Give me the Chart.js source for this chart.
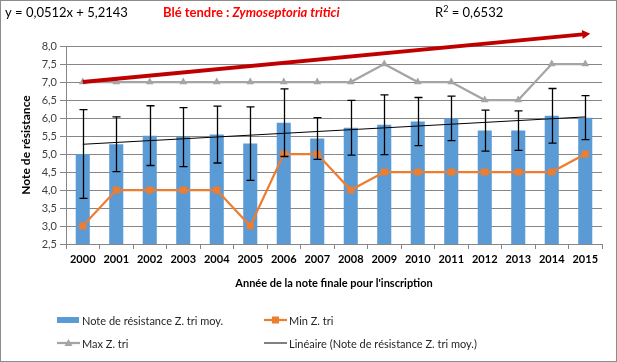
<!DOCTYPE html>
<html>
<head>
<meta charset="utf-8">
<script src="https://cdn.jsdelivr.net/npm/chart.js@4.4.0/dist/chart.umd.min.js"></script>
<style>
  html, body { margin: 0; padding: 0; background: #fff; }
  #wrap { position: relative; width: 617px; height: 362px; box-sizing: border-box; border: 1px solid #8c8c8c; }
  canvas { display: block; }
</style>
</head>
<body>
<div id="wrap"><canvas id="chart" width="615" height="360"></canvas></div>
<script>
// ===== data =====
const years = ['2000','2001','2002','2003','2004','2005','2006','2007','2008','2009','2010','2011','2012','2013','2014','2015']
const meanNote = [5.0, 5.27, 5.51, 5.47, 5.54, 5.29, 5.87, 5.43, 5.73, 5.81, 5.90, 5.99, 5.65, 5.65, 6.06, 6.01]
const sdNote = [1.23, 0.76, 0.83, 0.82, 0.79, 1.02, 0.94, 0.58, 0.76, 0.83, 0.67, 0.62, 0.57, 0.55, 0.76, 0.61]
const minNote = [3, 4, 4, 4, 4, 3, 5, 5, 4, 4.5, 4.5, 4.5, 4.5, 4.5, 4.5, 5]
const maxNote = [7, 7, 7, 7, 7, 7, 7, 7, 7, 7.5, 7, 7, 6.5, 6.5, 7.5, 7.5]
// trend line ends (y = 0,0512x + 5,2143) and the red arrow ends
const trendEnds = [5.27, 6.03]
const arrowEnds = [7.0, 8.33]
const yTicks = [2.5, 3.0, 3.5, 4.0, 4.5, 5.0, 5.5, 6.0, 6.5, 7.0, 7.5, 8.0]

const FONT = 'Lato, "Open Sans", sans-serif'

// only first and last points, the rest stays empty
const endsOnly = (ends) => years.map((y, i) => i === 0 ? ends[0] : (i === years.length - 1 ? ends[1] : null))

// Draws error bars on the bar dataset
const errorBars = {
    id: 'errorBars',
    afterDatasetsDraw(chart) {
        const ctx = chart.ctx
        const meta = chart.getDatasetMeta(0)
        const ys = chart.scales.y
        ctx.save()
        ctx.strokeStyle = '#000'
        ctx.lineWidth = 1.3
        meta.data.forEach((bar, i) => {
            const top = ys.getPixelForValue(meanNote[i] + sdNote[i])
            const bot = ys.getPixelForValue(meanNote[i] - sdNote[i])
            const x = Math.round(bar.x) + 0.5
            ctx.beginPath()
            ctx.moveTo(x, top); ctx.lineTo(x, bot)
            ctx.moveTo(x - 4, top); ctx.lineTo(x + 4, top)
            ctx.moveTo(x - 4, bot); ctx.lineTo(x + 4, bot)
            ctx.stroke()
        })
        ctx.restore()
    }
}

// arrow head at the end of the red line
const arrowHead = {
    id: 'arrowHead',
    afterDatasetsDraw(chart) {
        const idx = chart.data.datasets.findIndex(d => d.label === 'arrow')
        const pts = chart.getDatasetMeta(idx).data
        const a = pts[0], b = pts[pts.length - 1]
        const ang = Math.atan2(b.y - a.y, b.x - a.x)
        const ctx = chart.ctx
        ctx.save()
        ctx.translate(b.x, b.y)
        ctx.rotate(ang)
        ctx.fillStyle = '#C00000'
        ctx.beginPath()
        ctx.moveTo(5, 0)
        ctx.lineTo(-3, -4.5)
        ctx.lineTo(-3, 4.5)
        ctx.closePath()
        ctx.fill()
        ctx.restore()
    }
}

// top texts and legend
const texts = {
    id: 'texts',
    afterDraw(chart) {
        const ctx = chart.ctx
        ctx.save()
        ctx.textBaseline = 'middle'
        ctx.fillStyle = '#000'
        ctx.font = '13px ' + FONT
        ctx.fillText('y = 0,0512x + 5,2143', 4, 12)
        ctx.fillText('R', 434, 12)
        let w = ctx.measureText('R').width
        ctx.font = '9px ' + FONT
        ctx.fillText('2', 434 + w, 8)
        let w2 = ctx.measureText('2').width
        ctx.font = '13px ' + FONT
        ctx.fillText(' = 0,6532', 434 + w + w2, 12)

        ctx.fillStyle = '#FF0000'
        ctx.font = 'bold 13px ' + FONT
        const part1 = 'Blé tendre : '
        ctx.fillText(part1, 162, 12)
        const p1w = ctx.measureText(part1).width
        ctx.font = 'italic bold 13px ' + FONT
        ctx.fillText('Zymoseptoria tritici', 162 + p1w, 12)

        // legend
        const ds = chart.data.datasets
        ctx.font = '11px ' + FONT
        const items = [
            { d: ds[0], x: 56, y: 319 },
            { d: ds[1], x: 263, y: 319 },
            { d: ds[2], x: 56, y: 342 },
            { d: ds[3], x: 263, y: 342 }
        ]
        items.forEach(it => {
            const d = it.d
            if (d.type === 'bar') {
                ctx.fillStyle = d.backgroundColor
                ctx.fillRect(it.x, it.y - 3, 22, 6)
            } else {
                ctx.strokeStyle = d.borderColor
                ctx.lineWidth = d.borderWidth
                ctx.beginPath()
                ctx.moveTo(it.x, it.y); ctx.lineTo(it.x + 23, it.y)
                ctx.stroke()
                if (d.pointRadius > 0) {
                    ctx.fillStyle = d.pointBackgroundColor
                    const cx = it.x + 11.5
                    if (d.pointStyle === 'rect') {
                        ctx.fillRect(cx - 3.5, it.y - 3.5, 7, 7)
                    } else {
                        ctx.beginPath()
                        ctx.moveTo(cx, it.y - 4)
                        ctx.lineTo(cx + 4, it.y + 3)
                        ctx.lineTo(cx - 4, it.y + 3)
                        ctx.closePath()
                        ctx.fill()
                    }
                }
            }
            ctx.fillStyle = '#262626'
            ctx.fillText(d.label, it.x + 25, it.y + 1)
        })
        ctx.restore()
    }
}

new Chart(document.getElementById('chart'), {
    data: {
        labels: years,
        datasets: [
            {
                type: 'bar',
                label: 'Note de résistance Z. tri moy.',
                data: meanNote,
                backgroundColor: '#5B9BD5',
                barPercentage: 0.42,
                categoryPercentage: 1,
                order: 5
            },
            {
                type: 'line',
                label: 'Min Z. tri',
                data: minNote,
                borderColor: '#ED7D31',
                borderWidth: 2.25,
                pointStyle: 'rect',
                pointRadius: 5,
                pointBackgroundColor: '#ED7D31',
                pointBorderColor: '#ED7D31',
                pointBorderWidth: 0,
                order: 2
            },
            {
                type: 'line',
                label: 'Max Z. tri',
                data: maxNote,
                borderColor: '#A5A5A5',
                borderWidth: 2.25,
                pointStyle: 'triangle',
                pointRadius: 4.5,
                pointBackgroundColor: '#A5A5A5',
                pointBorderColor: '#A5A5A5',
                pointBorderWidth: 0,
                order: 3
            },
            {
                type: 'line',
                label: 'Linéaire (Note de résistance Z. tri moy.)',
                data: endsOnly(trendEnds),
                borderColor: '#000',
                borderWidth: 1,
                pointRadius: 0,
                spanGaps: true,
                order: 1
            },
            {
                type: 'line',
                label: 'arrow',
                data: endsOnly(arrowEnds),
                borderColor: '#C00000',
                borderWidth: 4,
                pointRadius: 0,
                spanGaps: true,
                clip: false,
                order: 0
            }
        ]
    },
    options: {
        responsive: false,
        animation: false,
        events: [],
        layout: { padding: { top: 45, right: 14, bottom: 67, left: 18 } },
        plugins: {
            legend: { display: false },
            tooltip: { enabled: false }
        },
        scales: {
            x: {
                offset: true,
                grid: { display: true, drawOnChartArea: false, offset: true, tickLength: 5, color: '#868686' },
                border: { color: '#868686' },
                ticks: { color: '#000', font: { family: FONT, size: 11, weight: 'bold' }, padding: 4, maxRotation: 0, autoSkip: false },
                title: { display: true, text: "Année de la note finale pour l'inscription", color: '#000', font: { family: FONT, size: 11, weight: 'bold' }, padding: { top: 6 } },
                afterFit(scale) { scale.height = 50 }
            },
            y: {
                min: 2.5,
                max: 8.0,
                afterBuildTicks(scale) { scale.ticks = yTicks.map(v => ({ value: v })) },
                grid: { color: '#868686', tickLength: 6 },
                border: { color: '#868686' },
                ticks: {
                    color: '#404040',
                    font: { family: FONT, size: 11 },
                    padding: 3,
                    callback: (v) => v.toFixed(1).replace('.', ',')
                },
                title: { display: true, text: 'Note de résistance', color: '#000', font: { family: FONT, size: 12, weight: 'bold' }, padding: 0 },
                afterFit(scale) { scale.width = 47 }
            }
        }
    },
    plugins: [errorBars, arrowHead, texts]
})
</script>
</body>
</html>
